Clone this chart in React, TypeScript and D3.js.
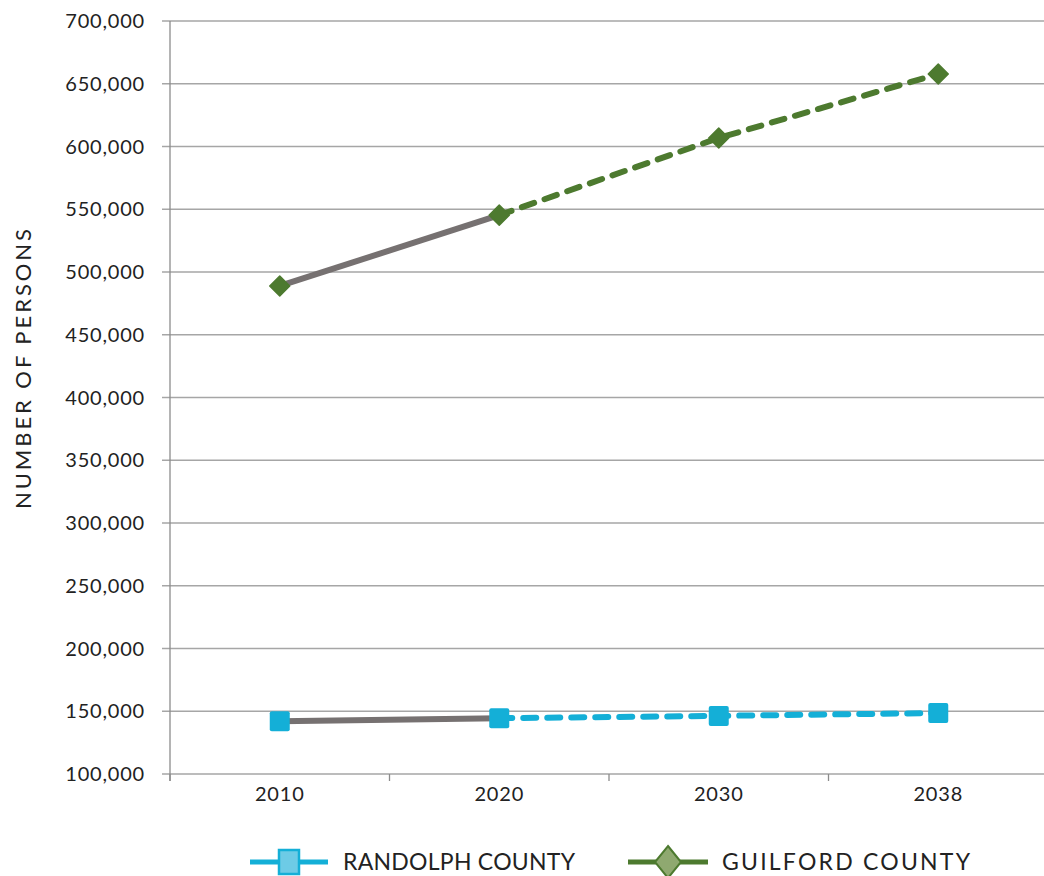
import React from "react";
import * as d3 from "d3";

const years = ["2010", "2020", "2030", "2038"];
const randolph = [142000, 144500, 146300, 148600];
const guilford = [488900, 545300, 606800, 657800];
const yTicks = [100000, 150000, 200000, 250000, 300000, 350000, 400000, 450000, 500000, 550000, 600000, 650000, 700000];

const W = 1044, H = 876;
const left = 170, right = 1048, top = 21, bottom = 774;
const FONT = "Lato, 'Open Sans', sans-serif";
const BLUE = "#14afd7";
const GREEN = "#4d7a2f";
const GREY = "#767171";

export default function App() {
  const x = d3.scaleBand().domain(years).range([left, right]);
  const y = d3.scaleLinear().domain([100000, 700000]).range([bottom, top]);
  const cx = (i: number) => (x(years[i]) as number) + x.bandwidth() / 2;
  const line = d3.line<[number, number]>().x(d => d[0]).y(d => d[1]);
  const series = [
    { name: "RANDOLPH COUNTY", data: randolph, color: BLUE, marker: "square" },
    { name: "GUILFORD COUNTY", data: guilford, color: GREEN, marker: "diamond" },
  ];
  const fmt = d3.format(",");
  return (
    <svg width={W} height={H} style={{ position: "absolute", left: 0, top: 0, background: "#fff" }} fontFamily={FONT}>
      {yTicks.map(t => (
        <g key={t}>
          <line x1={162} x2={W} y1={y(t)} y2={y(t)} stroke="#a6a6a6" strokeWidth={1.3} />
          <text x={145} y={y(t)} dy="0.35em" textAnchor="end" fontSize={20} fill="#222" letterSpacing={0.8}>{fmt(t)}</text>
        </g>
      ))}
      <line x1={left} x2={left} y1={top} y2={bottom + 7} stroke="#8c8c8c" strokeWidth={1.3} />
      {years.map((yr, i) => (
        <g key={yr}>
          <line x1={x(yr) as number} x2={x(yr) as number} y1={bottom} y2={bottom + 7} stroke="#8c8c8c" strokeWidth={1.3} />
          <text x={cx(i)} y={bottom + 13} dy="0.71em" textAnchor="middle" fontSize={20} fill="#222" letterSpacing={0.8}>{yr}</text>
        </g>
      ))}
      <text transform={`translate(31,369) rotate(-90)`} textAnchor="middle" fontSize={22} fill="#222" textLength={280} lengthAdjust="spacing">NUMBER OF PERSONS</text>
      {series.map(s => {
        const pts: [number, number][] = s.data.map((v, i) => [cx(i), y(v)]);
        return (
          <g key={s.name}>
            <path d={line(pts.slice(0, 2)) as string} stroke={GREY} strokeWidth={6} fill="none" />
            <path d={line(pts.slice(1)) as string} stroke={s.color} strokeWidth={6} fill="none" strokeDasharray="13,11" strokeLinecap="round" />
            {pts.map((p, i) =>
              s.marker === "square" ? (
                <rect key={i} x={p[0] - 10} y={p[1] - 10} width={20} height={20} rx={2} fill={s.color} />
              ) : (
                <path key={i} d={`M${p[0]},${p[1] - 10}L${p[0] + 10},${p[1]}L${p[0]},${p[1] + 10}L${p[0] - 10},${p[1]}Z`} fill={s.color} stroke={s.color} strokeWidth={1.5} strokeLinejoin="round" />
              )
            )}
          </g>
        );
      })}
      {/* legend */}
      <g>
        <line x1={250} x2={328} y1={862} y2={862} stroke={BLUE} strokeWidth={5} />
        <rect x={279} y={850} width={20} height={24} fill="#6dcbe6" stroke={BLUE} strokeWidth={2.5} />
        <text x={343} y={862} dy="0.36em" fontSize={23} fill="#222" textLength={232} lengthAdjust="spacing">RANDOLPH COUNTY</text>
        <line x1={628} x2={708} y1={862} y2={862} stroke={GREEN} strokeWidth={5} />
        <path d="M668,846L681,862L668,878L655,862Z" fill="#8fa970" stroke={GREEN} strokeWidth={2} />
        <text x={722} y={862} dy="0.36em" fontSize={23} fill="#222" textLength={248} lengthAdjust="spacing">GUILFORD COUNTY</text>
      </g>
    </svg>
  );
}
